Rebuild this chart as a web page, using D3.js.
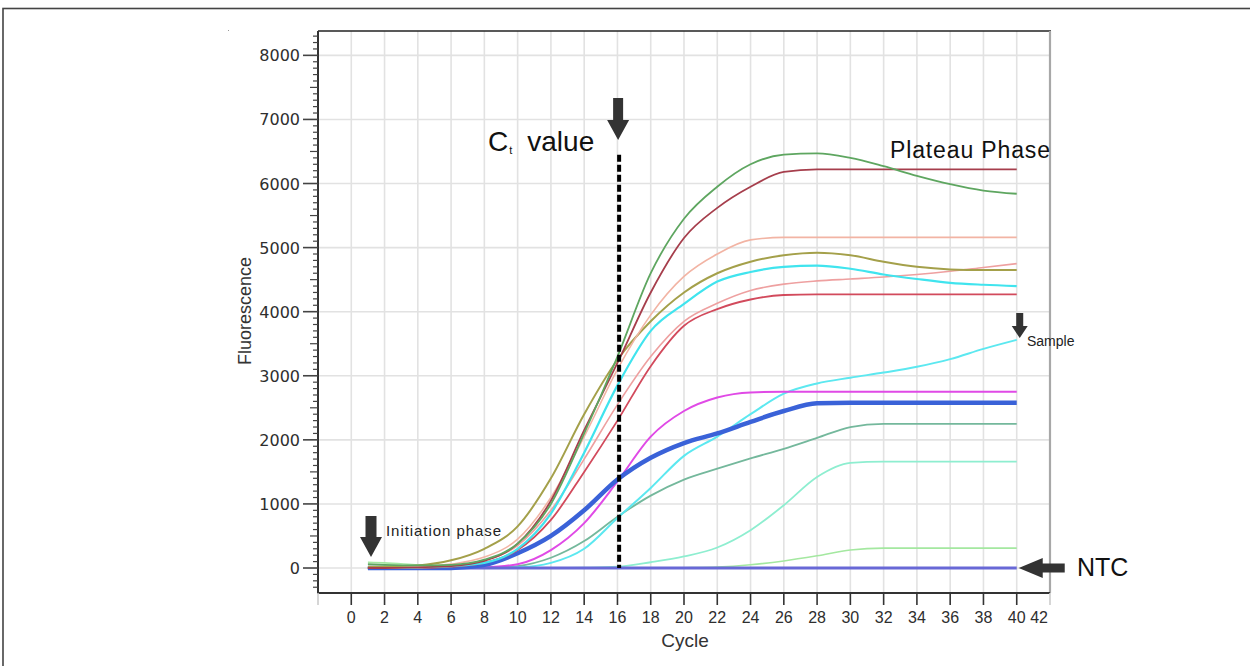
<!doctype html>
<html>
  <head>
    <meta charset="utf-8">
    <title>qPCR amplification curves</title>
    <script src="https://cdnjs.cloudflare.com/ajax/libs/d3/7.8.5/d3.min.js"></script>
    <style>
      body { margin: 0; background: #fff; }
      svg { display: block; font-family: "Liberation Sans", Arial, sans-serif; }
    </style>
  </head>
  <body>
    <div id="chart"></div>
    <script>
      const cycles = [1, 2, 4, 6, 8, 10, 12, 14, 16, 18, 20, 22, 24, 26, 28, 30, 32, 34, 36, 38, 40];

      // fluorescence per sample
      const green      = [60, 50, 40, 50, 130, 380, 1000, 2100, 3300, 4600, 5450, 5950, 6300, 6450, 6470, 6400, 6270, 6120, 5990, 5890, 5840];
      const darkRed    = [0, 0, 10, 30, 110, 380, 1050, 2150, 3200, 4300, 5150, 5620, 5950, 6180, 6220, 6220, 6220, 6220, 6220, 6220, 6220];
      const salmon     = [0, 0, 20, 60, 170, 450, 1100, 2050, 3100, 3950, 4550, 4900, 5120, 5160, 5160, 5160, 5160, 5160, 5160, 5160, 5160];
      const olive      = [20, 20, 40, 120, 300, 650, 1400, 2400, 3250, 3850, 4300, 4600, 4780, 4880, 4920, 4880, 4780, 4700, 4660, 4650, 4650];
      const cyan       = [0, 0, 10, 30, 80, 300, 850, 1800, 2850, 3700, 4120, 4470, 4620, 4700, 4720, 4670, 4580, 4510, 4450, 4420, 4400];
      const pink       = [0, 0, 10, 30, 120, 350, 900, 1700, 2550, 3300, 3850, 4130, 4330, 4430, 4480, 4510, 4540, 4580, 4630, 4690, 4750];
      const red        = [0, 0, 0, 20, 80, 280, 750, 1500, 2300, 3150, 3780, 4040, 4190, 4260, 4270, 4270, 4270, 4270, 4270, 4270, 4270];
      const sample     = [0, 0, 0, 0, 0, 10, 80, 300, 780, 1250, 1750, 2050, 2400, 2720, 2880, 2970, 3050, 3140, 3260, 3420, 3560];
      const magenta    = [0, 0, 0, 0, 10, 60, 280, 700, 1350, 2050, 2450, 2660, 2740, 2750, 2750, 2750, 2750, 2750, 2750, 2750, 2750];
      const blue       = [0, 0, 0, 0, 50, 230, 500, 900, 1380, 1720, 1950, 2100, 2280, 2450, 2570, 2580, 2580, 2580, 2580, 2580, 2580];
      const seaGreen   = [0, 0, 0, 0, 0, 30, 160, 420, 800, 1130, 1380, 1550, 1710, 1860, 2030, 2200, 2250, 2250, 2250, 2250, 2250];
      const aquamarine = [0, 0, 0, 0, 0, 0, 0, 5, 20, 90, 180, 320, 590, 980, 1420, 1640, 1660, 1660, 1660, 1660, 1660];
      const lightGreen = [90, 80, 50, 25, 10, 5, 0, 0, 0, 0, 5, 15, 50, 110, 190, 280, 310, 310, 310, 310, 310];
      const ntc        = [0, 0, 0, 0, 0, 0, 0, 0, 0, 0, 0, 0, 0, 0, 0, 0, 0, 0, 0, 0, 0];

      // axes
      const xTicks = [0, 2, 4, 6, 8, 10, 12, 14, 16, 18, 20, 22, 24, 26, 28, 30, 32, 34, 36, 38, 40, 42];
      const yTicks = [0, 1000, 2000, 3000, 4000, 5000, 6000, 7000, 8000];
      const ctCycle = 16.1;

      const series = [
        { v: lightGreen, c: '#a4e8a0', w: 1.6 },
        { v: aquamarine, c: '#8eeed0', w: 1.8 },
        { v: seaGreen,   c: '#74b89c', w: 1.8 },
        { v: sample,     c: '#5ce8f0', w: 2 },
        { v: magenta,    c: '#e04ae6', w: 2 },
        { v: ntc,        c: '#6868d6', w: 3 },
        { v: blue,       c: '#3a62d8', w: 4.5 },
        { v: red,        c: '#d24a5c', w: 1.8 },
        { v: pink,       c: '#eea0a0', w: 1.6 },
        { v: cyan,       c: '#40e4ee', w: 2.2 },
        { v: olive,      c: '#a4a04a', w: 2 },
        { v: salmon,     c: '#f2b4a4', w: 1.6 },
        { v: darkRed,    c: '#a63e4c', w: 1.8 },
        { v: green,      c: '#5ea660', w: 1.8 }
      ];

      const W = 1250, H = 666;
      const x = d3.scaleLinear().domain([-2, 42]).range([318, 1050]);
      const y = d3.scaleLinear().domain([-390, 8380]).range([593, 31]);

      const svg = d3.select('#chart').append('svg')
        .attr('width', W).attr('height', H);

      // outer frame
      svg.append('rect')
        .attr('x', 3).attr('y', 8.5).attr('width', 1400).attr('height', 800)
        .attr('fill', 'none').attr('stroke', '#444').attr('stroke-width', 1.6);
      svg.append('rect').attr('x', 228).attr('y', 30).attr('width', 1).attr('height', 1).attr('fill', '#999');

      // grid
      svg.append('g').selectAll('line')
        .data(d3.range(0, 41, 2))
        .join('line')
        .attr('x1', d => x(d)).attr('x2', d => x(d))
        .attr('y1', y(8380)).attr('y2', y(-390))
        .attr('stroke', '#e2e2e2').attr('stroke-width', 1.6);
      svg.append('g').selectAll('line')
        .data(yTicks)
        .join('line')
        .attr('x1', x(-2)).attr('x2', x(42))
        .attr('y1', d => y(d)).attr('y2', d => y(d))
        .attr('stroke', '#e2e2e2').attr('stroke-width', 1.6);

      // top and right frame of the plot
      svg.append('line')
        .attr('x1', x(-2)).attr('x2', x(42) + 1)
        .attr('y1', y(8380)).attr('y2', y(8380))
        .attr('stroke', '#222').attr('stroke-width', 1.6);
      svg.append('line')
        .attr('x1', x(42)).attr('x2', x(42))
        .attr('y1', y(8380)).attr('y2', y(-390))
        .attr('stroke', '#a8a8a8').attr('stroke-width', 2.2);

      // curves
      const line = d3.line()
        .x((d, i) => x(cycles[i]))
        .y(d => y(d))
        .curve(d3.curveMonotoneX);

      svg.append('g').selectAll('path')
        .data(series)
        .join('path')
        .attr('d', d => line(d.v))
        .attr('fill', 'none')
        .attr('stroke', d => d.c)
        .attr('stroke-width', d => d.w)
        .attr('stroke-linejoin', 'round');

      // y axis with minor ticks
      const yAxis = svg.append('g');
      yAxis.append('line')
        .attr('x1', x(-2)).attr('x2', x(-2))
        .attr('y1', y(8380)).attr('y2', y(-390) + 1)
        .attr('stroke', '#333').attr('stroke-width', 2);
      yAxis.selectAll('.minor')
        .data(d3.range(-300, 8400, 100))
        .join('line')
        .attr('x1', d => d % 1000 === 0 ? x(-2) - 15 : (d % 500 === 0 ? x(-2) - 8 : x(-2) - 5))
        .attr('x2', x(-2))
        .attr('y1', d => y(d)).attr('y2', d => y(d))
        .attr('stroke', '#444').attr('stroke-width', d => d % 1000 === 0 ? 1.6 : 1.2);
      yAxis.selectAll('text')
        .data(yTicks)
        .join('text')
        .attr('x', x(-2) - 18)
        .attr('y', d => y(d) + 6)
        .attr('text-anchor', 'end')
        .attr('font-family', 'DejaVu Sans, sans-serif')
        .attr('font-size', 16)
        .attr('fill', '#2e2e2e')
        .text(d => d);

      // x axis
      const xAxis = svg.append('g');
      xAxis.append('line')
        .attr('x1', x(-2) - 1).attr('x2', x(42))
        .attr('y1', y(-390)).attr('y2', y(-390))
        .attr('stroke', '#333').attr('stroke-width', 2);
      xAxis.selectAll('.tick')
        .data([-2].concat(xTicks))
        .join('line')
        .attr('x1', d => x(d)).attr('x2', d => x(d))
        .attr('y1', y(-390)).attr('y2', y(-390) + 12)
        .attr('stroke', d => (d < 0 || d > 40) ? '#ccc' : '#333')
        .attr('stroke-width', 1.6);
      xAxis.selectAll('text')
        .data(xTicks)
        .join('text')
        .attr('x', d => d === 42 ? x(42) - 2 : x(d))
        .attr('y', 623)
        .attr('text-anchor', d => d === 42 ? 'end' : 'middle')
        .attr('font-size', 16)
        .attr('fill', '#2e2e2e')
        .text(d => d);

      // axis titles
      svg.append('text')
        .attr('x', 685).attr('y', 647)
        .attr('text-anchor', 'middle')
        .attr('font-size', 19)
        .attr('fill', '#333')
        .text('Cycle');
      svg.append('text')
        .attr('transform', 'translate(251,311) rotate(-90)')
        .attr('text-anchor', 'middle')
        .attr('font-size', 18)
        .attr('fill', '#333')
        .text('Fluorescence');

      // annotations
      const arrowDown = (cx, top, tip, shaftW, headW, headH) =>
        `M${cx - shaftW / 2},${top} L${cx + shaftW / 2},${top} L${cx + shaftW / 2},${tip - headH}` +
        ` L${cx + headW / 2},${tip - headH} L${cx},${tip} L${cx - headW / 2},${tip - headH}` +
        ` L${cx - shaftW / 2},${tip - headH} Z`;

      // Ct line and arrow
      svg.append('line')
        .attr('x1', x(ctCycle)).attr('x2', x(ctCycle))
        .attr('y1', y(6450)).attr('y2', y(0))
        .attr('stroke', '#000').attr('stroke-width', 4)
        .attr('stroke-dasharray', '7,3');
      svg.append('path')
        .attr('d', arrowDown(x(ctCycle) - 1, 98, 140, 10, 22, 20))
        .attr('fill', '#333');
      const ct = svg.append('text')
        .attr('x', 488).attr('y', 151)
        .attr('font-size', 28)
        .attr('fill', '#111');
      ct.append('tspan').text('C');
      ct.append('tspan').attr('font-size', 11).attr('dy', 3).attr('dx', 1).text('t');
      ct.append('tspan').attr('dy', -3).attr('dx', 15).text('value');

      // plateau
      svg.append('text')
        .attr('x', 890).attr('y', 158)
        .attr('font-size', 23)
        .attr('textLength', 160)
        .attr('fill', '#111')
        .text('Plateau Phase');

      // sample
      svg.append('path')
        .attr('d', arrowDown(x(40) + 3, 313, 338, 7, 16, 12))
        .attr('fill', '#333');
      svg.append('text')
        .attr('x', 1027).attr('y', 346)
        .attr('font-size', 14)
        .attr('fill', '#222')
        .text('Sample');

      // initiation
      svg.append('path')
        .attr('d', arrowDown(371, 516, 557, 11, 22, 20))
        .attr('fill', '#333');
      svg.append('text')
        .attr('x', 386).attr('y', 536)
        .attr('font-size', 15)
        .attr('textLength', 115)
        .attr('fill', '#222')
        .text('Initiation phase');

      // NTC
      const ny = y(0);
      svg.append('path')
        .attr('d', `M${x(40) + 2},${ny} L${x(40) + 26},${ny - 10} L${x(40) + 26},${ny - 4.5}` +
                   ` L${x(40) + 48},${ny - 4.5} L${x(40) + 48},${ny + 4.5} L${x(40) + 26},${ny + 4.5}` +
                   ` L${x(40) + 26},${ny + 10} Z`)
        .attr('fill', '#333');
      svg.append('text')
        .attr('x', 1077).attr('y', 576)
        .attr('font-size', 25)
        .attr('fill', '#111')
        .text('NTC');
    </script>
  </body>
</html>
